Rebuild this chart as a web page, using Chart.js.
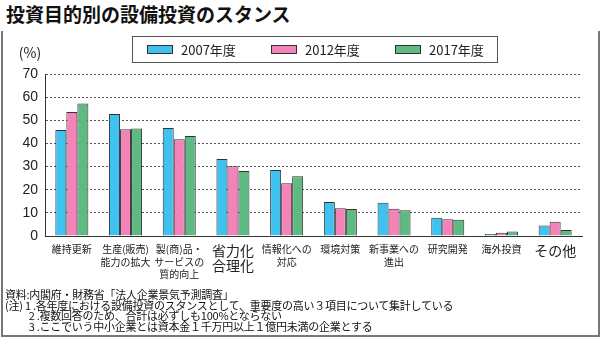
<!DOCTYPE html>
<html>
<head>
<meta charset="utf-8">
<script src="https://cdn.jsdelivr.net/npm/chart.js@4.4.1/dist/chart.umd.min.js"></script>
<style>
  html, body { margin: 0; padding: 0; background: #fff; }
  body { width: 600px; height: 339px; position: relative; overflow: hidden; font-family: "Noto Sans CJK JP", sans-serif; }
  #title { position: absolute; left: 6px; top: 3px; font-size: 19px; font-weight: bold; line-height: 22px; color: #111; white-space: nowrap; }
  #frame { position: absolute; left: 1px; top: 31px; width: 595px; height: 304px; border-left: 2px solid #777; border-right: 2px solid #777; border-bottom: 2px solid #777; }
  #wrap { position: absolute; left: 0; top: 0; width: 600px; height: 339px; }
  #notes { position: absolute; left: 5px; top: 289px; font-size: 11px; line-height: 10.6px; color: #111; white-space: pre; letter-spacing: -0.25px; }
</style>
</head>
<body>
<div id="frame"></div>
<div id="title">投資目的別の設備投資のスタンス</div>
<div id="wrap"><canvas id="c" width="600" height="339"></canvas></div>
<div id="notes">資料:内閣府・財務省「法人企業景気予測調査」
(注) 1 .各年度における設備投資のスタンスとして、重要度の高い３項目について集計している
　　 2 .複数回答のため、合計は必ずしも100%とならない
　　 3 .ここでいう中小企業とは資本金１千万円以上１億円未満の企業とする</div>
<script>
const categories = [
  ["維持更新"],
  ["生産(販売)", "能力の拡大"],
  ["製(商)品・", "サービスの", "質的向上"],
  ["省力化", "合理化"],
  ["情報化への", "対応"],
  ["環境対策"],
  ["新事業への", "進出"],
  ["研究開発"],
  ["海外投資"],
  ["その他"]
];
const seriesNames = ["2007年度", "2012年度", "2017年度"];
const values2007 = [45.8, 52.7, 46.7, 33.3, 28.5, 14.7, 14.4, 7.9, 0.9, 4.5];
const values2012 = [53.6, 46.1, 41.8, 30.1, 22.8, 12.0, 11.8, 7.2, 1.4, 6.2];
const values2017 = [57.3, 46.5, 43.2, 28.1, 25.8, 11.7, 11.1, 7.0, 1.9, 2.6];
const yTicks = [0, 10, 20, 30, 40, 50, 60, 70];
const colors = ["#3FC2F0", "#F383B8", "#5EBA82"];
const bigLabels = [3, 9];

const legendPlugin = {
  id: 'boxLegend',
  afterDraw(chart) {
    const ctx = chart.ctx;
    ctx.save();
    ctx.strokeStyle = '#555';
    ctx.lineWidth = 1;
    ctx.strokeRect(132.5, 36.5, 365, 26);
    const xs = [147, 271, 395];
    chart.data.datasets.forEach((ds, i) => {
      ctx.fillStyle = ds.backgroundColor;
      ctx.fillRect(xs[i], 45, 26, 9);
      ctx.strokeStyle = '#333';
      ctx.strokeRect(xs[i] + 0.5, 45.5, 25, 8);
      ctx.fillStyle = '#222';
      ctx.font = '13px "Noto Sans CJK JP", sans-serif';
      ctx.textBaseline = 'middle';
      ctx.textAlign = 'left';
      ctx.fillText(ds.label, xs[i] + 34, 50);
    });
    ctx.font = '14px "Noto Sans CJK JP", sans-serif';
    ctx.textAlign = 'center';
    ctx.fillText('(%)', 30, 53);
    ctx.restore();
  }
};

new Chart(document.getElementById('c'), {
  type: 'bar',
  data: {
    labels: categories,
    datasets: [
      { label: seriesNames[0], data: values2007, backgroundColor: colors[0] },
      { label: seriesNames[1], data: values2012, backgroundColor: colors[1] },
      { label: seriesNames[2], data: values2017, backgroundColor: colors[2] }
    ]
  },
  options: {
    responsive: false,
    animation: false,
    devicePixelRatio: 1,
    layout: { padding: { left: 0, right: 18, top: 74, bottom: 53 } },
    datasets: {
      bar: {
        borderColor: '#333',
        borderWidth: 1,
        categoryPercentage: 0.615,
        barPercentage: 1.0
      }
    },
    plugins: {
      legend: { display: false },
      tooltip: { enabled: false }
    },
    scales: {
      x: {
        grid: { display: false, drawTicks: false },
        border: { display: true, color: '#333', width: 1 },
        afterFit(scale) { scale.height = 50; },
        ticks: {
          color: '#222',
          padding: 7,
          maxRotation: 0,
          autoSkip: false,
          font: (ctx) => bigLabels.includes(ctx.index)
            ? { family: '"Noto Sans CJK JP", sans-serif', size: 14, lineHeight: 1.1 }
            : { family: '"Noto Sans CJK JP", sans-serif', size: 10, lineHeight: 1.25 }
        }
      },
      y: {
        min: 0,
        max: 70,
        afterFit(scale) { scale.width = 45; },
        afterBuildTicks(scale) { scale.ticks = yTicks.map(v => ({ value: v })); },
        grid: {
          drawTicks: false,
          color: (ctx) => ctx.tick && ctx.tick.value === 0 ? 'rgba(0,0,0,0)' : '#555',
          lineWidth: 1
        },
        border: { display: true, color: '#333', width: 1, dash: [2, 2] },
        ticks: {
          color: '#222',
          padding: 7,
          font: { family: '"Liberation Sans Narrow", "Liberation Sans", sans-serif', size: 14 }
        }
      }
    }
  },
  plugins: [legendPlugin]
});
</script>
</body>
</html>
